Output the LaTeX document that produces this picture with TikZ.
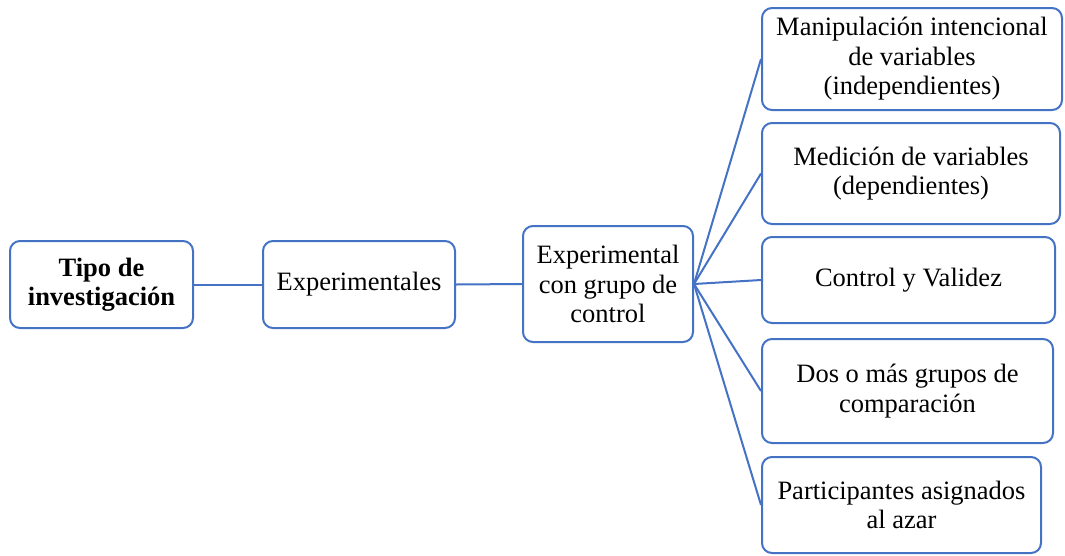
\documentclass[tikz,border=0pt]{standalone}
\usepackage{fontspec}
\setmainfont{Liberation Serif}
\definecolor{boxblue}{RGB}{68,114,196}
\begin{document}
\begin{tikzpicture}[x=1pt,y=-1pt,
  box/.style={draw=boxblue,line width=2pt,rounded corners=10pt,fill=white,
    align=center,inner sep=0pt,font=\fontsize{26.5}{29.5}\selectfont},
  conn/.style={draw=boxblue,line width=2pt}]
\useasboundingbox (0,0) rectangle (1065,555);
\node[box,minimum width=183pt,minimum height=87pt] (tipo) at (101.5,284.5) {\textbf{Tipo de}\\\textbf{investigación}};
\node[box,minimum width=192pt,minimum height=87pt] (exps) at (359,284.5) {Experimentales};
\node[box,minimum width=170pt,minimum height=116pt] (egc) at (608,284) {Experimental\\con grupo de\\control};
\node[box,minimum width=300pt,minimum height=102pt] (m1) at (912,59) {Manipulación intencional\\de variables\\(independientes)};
\node[box,minimum width=298pt,minimum height=101pt] (m2) at (911,173.5) {Medición de variables\\(dependientes)};
\node[box,minimum width=293pt,minimum height=86pt] (m3) at (908.5,280) {Control y Validez};
\node[box,minimum width=291pt,minimum height=104pt] (m4) at (907.5,391) {Dos o más grupos de\\comparación};
\node[box,minimum width=279pt,minimum height=96pt] (m5) at (901.5,505) {Participantes asignados\\al azar};
\draw[conn] (tipo.east) -- (exps.west);
\draw[conn] (exps.east) -- (egc.west);
\foreach \n in {m1,m2,m3,m4,m5} \draw[conn] (egc.east) -- (\n.west);
\end{tikzpicture}
\end{document}
